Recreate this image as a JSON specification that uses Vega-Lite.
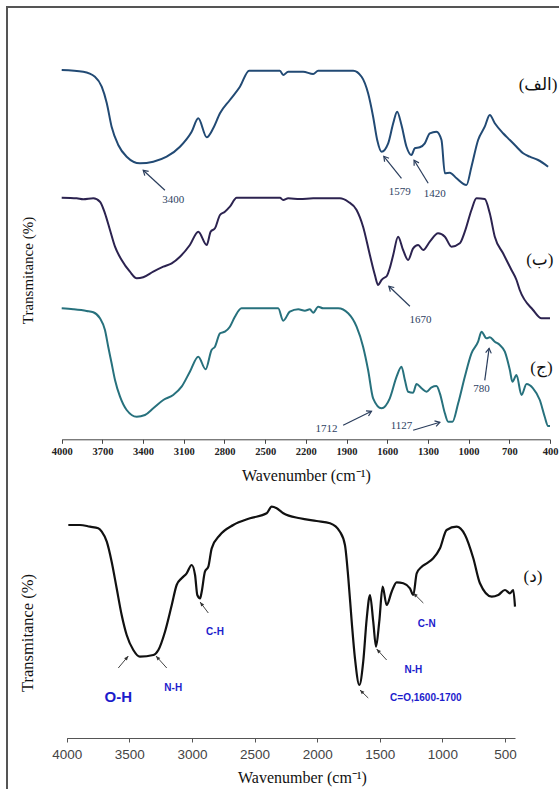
{
  "$schema": "https://vega.github.io/schema/vega-lite/v6.json",
  "width": 555,
  "height": 785,
  "autosize": "none",
  "padding": {"left": 7, "top": 7, "right": -3, "bottom": -3},
  "background": "white",
  "config": {
    "view": {"stroke": "#555555", "strokeWidth": 2},
    "axis": {"grid": false, "labelFlush": false, "labelOverlap": false}
  },
  "datasets": {
    "top": [
      {"s": "a", "w": 4000, "t": 369.3}, {"s": "a", "w": 3841, "t": 367.6}, {"s": "a", "w": 3755, "t": 362.6},
      {"s": "a", "w": 3705, "t": 352.6}, {"s": "a", "w": 3668, "t": 336.3}, {"s": "a", "w": 3632, "t": 312.6},
      {"s": "a", "w": 3583, "t": 294.3}, {"s": "a", "w": 3521, "t": 282.6}, {"s": "a", "w": 3423, "t": 276},
      {"s": "a", "w": 3325, "t": 277.6}, {"s": "a", "w": 3226, "t": 282.6}, {"s": "a", "w": 3128, "t": 292.6},
      {"s": "a", "w": 3042, "t": 307.6}, {"s": "a", "w": 2993, "t": 321}, {"s": "a", "w": 2931, "t": 302},
      {"s": "a", "w": 2883, "t": 311}, {"s": "a", "w": 2833, "t": 326}, {"s": "a", "w": 2760, "t": 339.3},
      {"s": "a", "w": 2686, "t": 352.6}, {"s": "a", "w": 2618, "t": 368.6}, {"s": "a", "w": 2391, "t": 368.6},
      {"s": "a", "w": 2367, "t": 364.3}, {"s": "a", "w": 2330, "t": 367.6}, {"s": "a", "w": 2220, "t": 367.6},
      {"s": "a", "w": 2146, "t": 365.3}, {"s": "a", "w": 2109, "t": 368.6}, {"s": "a", "w": 1851, "t": 368.6},
      {"s": "a", "w": 1789, "t": 362.6}, {"s": "a", "w": 1741, "t": 346}, {"s": "a", "w": 1704, "t": 322.6},
      {"s": "a", "w": 1674, "t": 299.3}, {"s": "a", "w": 1642, "t": 287.6}, {"s": "a", "w": 1593, "t": 296},
      {"s": "a", "w": 1556, "t": 316}, {"s": "a", "w": 1527, "t": 327.6}, {"s": "a", "w": 1495, "t": 314.3},
      {"s": "a", "w": 1458, "t": 292.6}, {"s": "a", "w": 1421, "t": 284.3}, {"s": "a", "w": 1397, "t": 291},
      {"s": "a", "w": 1360, "t": 292}, {"s": "a", "w": 1323, "t": 296}, {"s": "a", "w": 1286, "t": 306},
      {"s": "a", "w": 1237, "t": 307.6}, {"s": "a", "w": 1200, "t": 299.3}, {"s": "a", "w": 1175, "t": 266},
      {"s": "a", "w": 1139, "t": 266.6}, {"s": "a", "w": 1089, "t": 261}, {"s": "a", "w": 1016, "t": 254.3},
      {"s": "a", "w": 979, "t": 272.6}, {"s": "a", "w": 930, "t": 299.3}, {"s": "a", "w": 881, "t": 312.6},
      {"s": "a", "w": 844, "t": 324.3}, {"s": "a", "w": 807, "t": 316}, {"s": "a", "w": 746, "t": 306},
      {"s": "a", "w": 696, "t": 299.3}, {"s": "a", "w": 647, "t": 292.6}, {"s": "a", "w": 598, "t": 286},
      {"s": "a", "w": 549, "t": 282.6}, {"s": "a", "w": 488, "t": 279.3}, {"s": "a", "w": 414, "t": 272.6},

      {"s": "b", "w": 4000, "t": 241.6}, {"s": "b", "w": 3889, "t": 241}, {"s": "b", "w": 3841, "t": 240},
      {"s": "b", "w": 3767, "t": 241}, {"s": "b", "w": 3718, "t": 237.6}, {"s": "b", "w": 3681, "t": 226},
      {"s": "b", "w": 3644, "t": 209.3}, {"s": "b", "w": 3607, "t": 192.6}, {"s": "b", "w": 3558, "t": 179.3},
      {"s": "b", "w": 3497, "t": 167.6}, {"s": "b", "w": 3447, "t": 161}, {"s": "b", "w": 3399, "t": 162},
      {"s": "b", "w": 3325, "t": 167.6}, {"s": "b", "w": 3251, "t": 172.6}, {"s": "b", "w": 3189, "t": 176},
      {"s": "b", "w": 3128, "t": 182.6}, {"s": "b", "w": 3055, "t": 194.3}, {"s": "b", "w": 2993, "t": 207.6},
      {"s": "b", "w": 2931, "t": 194.3}, {"s": "b", "w": 2902, "t": 207.6}, {"s": "b", "w": 2870, "t": 211},
      {"s": "b", "w": 2833, "t": 224.3}, {"s": "b", "w": 2797, "t": 227.6}, {"s": "b", "w": 2760, "t": 232.6},
      {"s": "b", "w": 2710, "t": 241.6}, {"s": "b", "w": 2391, "t": 241.6}, {"s": "b", "w": 2367, "t": 239.3},
      {"s": "b", "w": 2330, "t": 241}, {"s": "b", "w": 2244, "t": 240.3}, {"s": "b", "w": 2146, "t": 241},
      {"s": "b", "w": 1949, "t": 241}, {"s": "b", "w": 1888, "t": 237.6}, {"s": "b", "w": 1826, "t": 229.3},
      {"s": "b", "w": 1778, "t": 212.6}, {"s": "b", "w": 1728, "t": 184.3}, {"s": "b", "w": 1691, "t": 164.3},
      {"s": "b", "w": 1667, "t": 154.3}, {"s": "b", "w": 1642, "t": 159.3}, {"s": "b", "w": 1625, "t": 161.3},
      {"s": "b", "w": 1603, "t": 163.3}, {"s": "b", "w": 1581, "t": 171.3}, {"s": "b", "w": 1556, "t": 184.3},
      {"s": "b", "w": 1520, "t": 202.6}, {"s": "b", "w": 1483, "t": 189.3}, {"s": "b", "w": 1446, "t": 179.3},
      {"s": "b", "w": 1409, "t": 191}, {"s": "b", "w": 1372, "t": 194.3}, {"s": "b", "w": 1335, "t": 189.3},
      {"s": "b", "w": 1286, "t": 197.6}, {"s": "b", "w": 1225, "t": 206}, {"s": "b", "w": 1175, "t": 202.6},
      {"s": "b", "w": 1126, "t": 192.6}, {"s": "b", "w": 1065, "t": 196}, {"s": "b", "w": 1028, "t": 207.6},
      {"s": "b", "w": 979, "t": 229.3}, {"s": "b", "w": 942, "t": 241}, {"s": "b", "w": 881, "t": 240.3},
      {"s": "b", "w": 844, "t": 226}, {"s": "b", "w": 807, "t": 202.6}, {"s": "b", "w": 746, "t": 186},
      {"s": "b", "w": 684, "t": 169.3}, {"s": "b", "w": 647, "t": 159.3}, {"s": "b", "w": 623, "t": 149.3},
      {"s": "b", "w": 525, "t": 129.3}, {"s": "b", "w": 463, "t": 121}, {"s": "b", "w": 400, "t": 121},

      {"s": "c", "w": 4000, "t": 131}, {"s": "c", "w": 3915, "t": 130}, {"s": "c", "w": 3816, "t": 128.3},
      {"s": "c", "w": 3767, "t": 127}, {"s": "c", "w": 3718, "t": 121}, {"s": "c", "w": 3681, "t": 109.3},
      {"s": "c", "w": 3657, "t": 92.6}, {"s": "c", "w": 3632, "t": 76}, {"s": "c", "w": 3607, "t": 59.3},
      {"s": "c", "w": 3570, "t": 42.6}, {"s": "c", "w": 3521, "t": 29.3}, {"s": "c", "w": 3447, "t": 22.6},
      {"s": "c", "w": 3386, "t": 24.3}, {"s": "c", "w": 3325, "t": 31}, {"s": "c", "w": 3251, "t": 39.3},
      {"s": "c", "w": 3178, "t": 44.3}, {"s": "c", "w": 3116, "t": 52.6}, {"s": "c", "w": 3055, "t": 67.6},
      {"s": "c", "w": 2993, "t": 82.6}, {"s": "c", "w": 2939, "t": 70}, {"s": "c", "w": 2895, "t": 89.3},
      {"s": "c", "w": 2870, "t": 92.6}, {"s": "c", "w": 2833, "t": 106}, {"s": "c", "w": 2797, "t": 107.6},
      {"s": "c", "w": 2760, "t": 112.6}, {"s": "c", "w": 2723, "t": 122.6}, {"s": "c", "w": 2674, "t": 131},
      {"s": "c", "w": 2404, "t": 131}, {"s": "c", "w": 2367, "t": 118.6}, {"s": "c", "w": 2318, "t": 127.6},
      {"s": "c", "w": 2256, "t": 130}, {"s": "c", "w": 2207, "t": 128.6}, {"s": "c", "w": 2170, "t": 130},
      {"s": "c", "w": 2146, "t": 126.6}, {"s": "c", "w": 2109, "t": 132.6}, {"s": "c", "w": 2072, "t": 131},
      {"s": "c", "w": 1962, "t": 131}, {"s": "c", "w": 1888, "t": 126}, {"s": "c", "w": 1826, "t": 112.6},
      {"s": "c", "w": 1778, "t": 92.6}, {"s": "c", "w": 1741, "t": 69.3}, {"s": "c", "w": 1704, "t": 41},
      {"s": "c", "w": 1642, "t": 31}, {"s": "c", "w": 1581, "t": 41}, {"s": "c", "w": 1531, "t": 62.6},
      {"s": "c", "w": 1495, "t": 72.6}, {"s": "c", "w": 1470, "t": 59.3}, {"s": "c", "w": 1446, "t": 47.6},
      {"s": "c", "w": 1409, "t": 46.6}, {"s": "c", "w": 1384, "t": 55.3}, {"s": "c", "w": 1347, "t": 51},
      {"s": "c", "w": 1310, "t": 47.6}, {"s": "c", "w": 1273, "t": 52}, {"s": "c", "w": 1237, "t": 53.3},
      {"s": "c", "w": 1212, "t": 46}, {"s": "c", "w": 1175, "t": 26}, {"s": "c", "w": 1151, "t": 17.6},
      {"s": "c", "w": 1119, "t": 17.6}, {"s": "c", "w": 1077, "t": 36}, {"s": "c", "w": 1028, "t": 62.6},
      {"s": "c", "w": 979, "t": 86}, {"s": "c", "w": 930, "t": 97.6}, {"s": "c", "w": 905, "t": 107.6},
      {"s": "c", "w": 868, "t": 101}, {"s": "c", "w": 844, "t": 102}, {"s": "c", "w": 807, "t": 97.6},
      {"s": "c", "w": 770, "t": 94.3}, {"s": "c", "w": 733, "t": 87.6}, {"s": "c", "w": 696, "t": 69.3},
      {"s": "c", "w": 677, "t": 57.6}, {"s": "c", "w": 647, "t": 64.3}, {"s": "c", "w": 610, "t": 44.3},
      {"s": "c", "w": 573, "t": 55.3}, {"s": "c", "w": 525, "t": 51}, {"s": "c", "w": 475, "t": 39.3},
      {"s": "c", "w": 439, "t": 22.6}, {"s": "c", "w": 414, "t": 13.3}, {"s": "c", "w": 400, "t": 13.3}
    ],
    "topNotes": [
      {"label": "3400", "lw": 3178, "lt": 239, "w": 3239, "t": 249, "w2": 3399, "t2": 269},
      {"label": "1579", "lw": 1507, "lt": 247, "w": 1495, "t": 261, "w2": 1625, "t2": 283},
      {"label": "1420", "lw": 1249, "lt": 245, "w": 1298, "t": 256, "w2": 1402, "t2": 279},
      {"label": "1670", "lw": 1355, "lt": 119, "w": 1433, "t": 133, "w2": 1588, "t2": 153},
      {"label": "1712", "lw": 2047, "lt": 10, "w": 1925, "t": 14, "w2": 1716, "t2": 28},
      {"label": "1127", "lw": 1495, "lt": 13, "w": 1409, "t": 9, "w2": 1212, "t2": 17},
      {"label": "780", "lw": 905, "lt": 50, "w": 881, "t": 59, "w2": 849, "t2": 91}
    ],
    "topTags": [
      {"tag": "(الف)", "w": 488, "t": 354},
      {"tag": "(ب)", "w": 475, "t": 179},
      {"tag": "(ج)", "w": 463, "t": 71}
    ],
    "bottom": [
      {"w": 3987, "t": 213}, {"w": 3894, "t": 213}, {"w": 3814, "t": 211.3}, {"w": 3748, "t": 209.7},
      {"w": 3720, "t": 206.3}, {"w": 3680, "t": 196.3}, {"w": 3641, "t": 176.3}, {"w": 3601, "t": 149.7},
      {"w": 3561, "t": 123}, {"w": 3521, "t": 103}, {"w": 3468, "t": 88}, {"w": 3415, "t": 81.3},
      {"w": 3308, "t": 83}, {"w": 3268, "t": 88}, {"w": 3215, "t": 106.3}, {"w": 3161, "t": 133},
      {"w": 3122, "t": 153}, {"w": 3082, "t": 159.7}, {"w": 3042, "t": 164.7}, {"w": 3002, "t": 173},
      {"w": 2975, "t": 163}, {"w": 2957, "t": 143}, {"w": 2935, "t": 139.7}, {"w": 2922, "t": 146.3},
      {"w": 2896, "t": 166.3}, {"w": 2869, "t": 171.3}, {"w": 2842, "t": 189.7}, {"w": 2776, "t": 203},
      {"w": 2670, "t": 213}, {"w": 2536, "t": 219.7}, {"w": 2403, "t": 224.7}, {"w": 2363, "t": 231.3},
      {"w": 2323, "t": 229.7}, {"w": 2270, "t": 224.7}, {"w": 2137, "t": 219.7}, {"w": 2004, "t": 217},
      {"w": 1897, "t": 214.7}, {"w": 1818, "t": 206.3}, {"w": 1778, "t": 193}, {"w": 1751, "t": 159.7},
      {"w": 1724, "t": 116.3}, {"w": 1698, "t": 79.7}, {"w": 1663, "t": 53}, {"w": 1632, "t": 76.3},
      {"w": 1604, "t": 119.7}, {"w": 1578, "t": 143}, {"w": 1552, "t": 116.3}, {"w": 1530, "t": 91.3},
      {"w": 1504, "t": 116.3}, {"w": 1477, "t": 151.3}, {"w": 1445, "t": 133}, {"w": 1405, "t": 146.3},
      {"w": 1365, "t": 155.7}, {"w": 1312, "t": 154.7}, {"w": 1259, "t": 149.7}, {"w": 1232, "t": 143},
      {"w": 1205, "t": 164.7}, {"w": 1165, "t": 171.3}, {"w": 1125, "t": 174.7}, {"w": 1073, "t": 179.7},
      {"w": 1019, "t": 189.7}, {"w": 966, "t": 208}, {"w": 886, "t": 211.3}, {"w": 819, "t": 203},
      {"w": 753, "t": 179.7}, {"w": 700, "t": 154.7}, {"w": 606, "t": 141.3}, {"w": 554, "t": 143},
      {"w": 500, "t": 148}, {"w": 460, "t": 144.7}, {"w": 434, "t": 148}, {"w": 420, "t": 131.3}
    ],
    "bottomNotes": [
      {"label": "O-H", "lw": 3588, "lt": 41, "w": 3588, "t": 70, "w2": 3508, "t2": 82},
      {"label": "N-H", "lw": 3149, "lt": 50, "w": 3201, "t": 70, "w2": 3287, "t2": 82},
      {"label": "C-H", "lw": 2816, "lt": 106, "w": 2869, "t": 125, "w2": 2935, "t2": 136},
      {"label": "N-H", "lw": 1232, "lt": 68, "w": 1445, "t": 78, "w2": 1525, "t2": 89},
      {"label": "C=O,1600-1700", "lw": 1132, "lt": 40, "w": 1592, "t": 40, "w2": 1658, "t2": 48},
      {"label": "C-N", "lw": 1125, "lt": 114, "w": 1152, "t": 135, "w2": 1232, "t2": 145}
    ],
    "bottomTags": [
      {"tag": "(د)", "w": 276, "t": 161}
    ]
  },
  "layer": [
    {
      "layer": [
        {
          "data": {"name": "top"},
          "mark": {"type": "line", "interpolate": "monotone", "strokeWidth": 2},
          "encoding": {
            "x": {
              "field": "w", "type": "quantitative",
              "scale": {"domain": [4000, 400], "range": [54.7, 543], "nice": false, "zero": false},
              "axis": {
                "orient": "bottom", "offset": -352.7,
                "values": [4000, 3700, 3400, 3100, 2800, 2500, 2200, 1900, 1600, 1300, 1000, 700, 400],
                "format": "d", "domainColor": "#444444", "tickColor": "#444444", "tickSize": 4,
                "labelFont": "Liberation Serif", "labelFontSize": 10.5, "labelFontWeight": "bold",
                "labelColor": "#222222", "labelPadding": 3,
                "title": "Wavenumber (cm⁻¹)", "titleFont": "Liberation Serif", "titleFontSize": 16,
                "titleFontWeight": "normal", "titleColor": "#111111",
                "titleBaseline": "middle", "titleY": 36
              }
            },
            "y": {
              "field": "t", "type": "quantitative",
              "scale": {"domain": [0, 432], "range": [432.3, 0.3], "nice": false, "zero": false},
              "axis": {
                "orient": "left", "domain": false, "ticks": false, "labels": false,
                "title": "Transmitance (%)", "titleFont": "Liberation Serif", "titleFontSize": 15,
                "titleFontWeight": "normal", "titleColor": "#111111",
                "titleBaseline": "middle", "titleAlign": "center", "titleX": 20, "titleY": 263
              }
            },
            "color": {
              "field": "s", "type": "nominal",
              "scale": {"domain": ["a", "b", "c"], "range": ["#224a74", "#2c2350", "#27717d"]},
              "legend": null
            }
          }
        },
        {
          "data": {"name": "topNotes"},
          "mark": {"type": "rule", "color": "#2a3d5c", "strokeWidth": 1.2},
          "encoding": {
            "x": {"field": "w", "type": "quantitative"},
            "y": {"field": "t", "type": "quantitative"},
            "x2": {"field": "w2"},
            "y2": {"field": "t2"}
          }
        },
        {
          "data": {"name": "topNotes"},
          "transform": [
            {"calculate": "atan2(-(datum.w2 - datum.w) * 0.1357, datum.t2 - datum.t) * 180 / PI", "as": "ang"}
          ],
          "mark": {"type": "point", "shape": "M-0.6,1 L0,0 L0.6,1", "filled": false, "size": 90, "strokeWidth": 1.2, "color": "#2a3d5c", "opacity": 1},
          "encoding": {
            "x": {"field": "w2", "type": "quantitative"},
            "y": {"field": "t2", "type": "quantitative"},
            "angle": {"field": "ang", "type": "quantitative", "scale": null}
          }
        },
        {
          "data": {"name": "topNotes"},
          "mark": {"type": "text", "font": "Liberation Serif", "fontSize": 11, "color": "#2d4262"},
          "encoding": {
            "x": {"field": "lw", "type": "quantitative"},
            "y": {"field": "lt", "type": "quantitative"},
            "text": {"field": "label"}
          }
        },
        {
          "data": {"name": "topTags"},
          "mark": {"type": "text", "font": "Liberation Serif, DejaVu Sans", "fontSize": 17, "color": "#111111"},
          "encoding": {
            "x": {"field": "w", "type": "quantitative"},
            "y": {"field": "t", "type": "quantitative"},
            "text": {"field": "tag"}
          }
        }
      ]
    },
    {
      "layer": [
        {
          "data": {"name": "bottom"},
          "mark": {"type": "line", "interpolate": "monotone", "strokeWidth": 2.2, "color": "#111111"},
          "encoding": {
            "x": {
              "field": "w", "type": "quantitative",
              "scale": {"domain": [4000, 420], "range": [59.7, 508], "nice": false, "zero": false},
              "axis": {
                "orient": "bottom", "offset": -54,
                "values": [4000, 3750, 3500, 3250, 3000, 2750, 2500, 2250, 2000, 1750, 1500, 1250, 1000, 750, 500],
                "labelExpr": "datum.value % 500 == 0 ? format(datum.value, 'd') : ''",
                "domainColor": "#555555", "tickColor": "#555555", "tickSize": 4,
                "labelFont": "Liberation Sans", "labelFontSize": 13.5, "labelColor": "#444444", "labelPadding": 5,
                "title": "Wavenumber (cm⁻¹)", "titleFont": "Liberation Serif", "titleFontSize": 16,
                "titleFontWeight": "normal", "titleColor": "#111111",
                "titleBaseline": "middle", "titleX": 295, "titleY": 39
              }
            },
            "y": {
              "field": "t", "type": "quantitative",
              "scale": {"domain": [0, 240], "range": [731, 491], "nice": false, "zero": false},
              "axis": {
                "orient": "left", "domain": false, "ticks": false, "labels": false,
                "title": "Transmitance (%)", "titleFont": "Liberation Serif", "titleFontSize": 16.5,
                "titleFontWeight": "normal", "titleColor": "#111111",
                "titleBaseline": "middle", "titleAlign": "center", "titleX": 20, "titleY": 625.5
              }
            }
          }
        },
        {
          "data": {"name": "bottomNotes"},
          "mark": {"type": "rule", "color": "#444444", "strokeWidth": 1},
          "encoding": {
            "x": {"field": "w", "type": "quantitative"},
            "y": {"field": "t", "type": "quantitative"},
            "x2": {"field": "w2"},
            "y2": {"field": "t2"}
          }
        },
        {
          "data": {"name": "bottomNotes"},
          "transform": [
            {"calculate": "atan2(-(datum.w2 - datum.w) * 0.1252, datum.t2 - datum.t) * 180 / PI", "as": "ang"}
          ],
          "mark": {"type": "point", "shape": "M0,0 L-0.55,1.3 L0.55,1.3 Z", "filled": true, "size": 45, "color": "#333333", "opacity": 1},
          "encoding": {
            "x": {"field": "w2", "type": "quantitative"},
            "y": {"field": "t2", "type": "quantitative"},
            "angle": {"field": "ang", "type": "quantitative", "scale": null}
          }
        },
        {
          "data": {"name": "bottomNotes"},
          "transform": [{"filter": "datum.label == 'O-H'"}],
          "mark": {"type": "text", "font": "Liberation Sans", "fontSize": 15, "fontWeight": "bold", "color": "#1c1ccc"},
          "encoding": {
            "x": {"field": "lw", "type": "quantitative"},
            "y": {"field": "lt", "type": "quantitative"},
            "text": {"field": "label"}
          }
        },
        {
          "data": {"name": "bottomNotes"},
          "transform": [{"filter": "datum.label != 'O-H'"}],
          "mark": {"type": "text", "font": "Liberation Sans", "fontSize": 10, "fontWeight": "bold", "color": "#1c1ccc"},
          "encoding": {
            "x": {"field": "lw", "type": "quantitative"},
            "y": {"field": "lt", "type": "quantitative"},
            "text": {"field": "label"}
          }
        },
        {
          "data": {"name": "bottomTags"},
          "mark": {"type": "text", "font": "Liberation Serif, DejaVu Sans", "fontSize": 17, "color": "#111111"},
          "encoding": {
            "x": {"field": "w", "type": "quantitative"},
            "y": {"field": "t", "type": "quantitative"},
            "text": {"field": "tag"}
          }
        }
      ]
    }
  ],
  "resolve": {
    "scale": {"x": "independent", "y": "independent", "color": "independent"},
    "axis": {"x": "independent", "y": "independent"}
  }
}
